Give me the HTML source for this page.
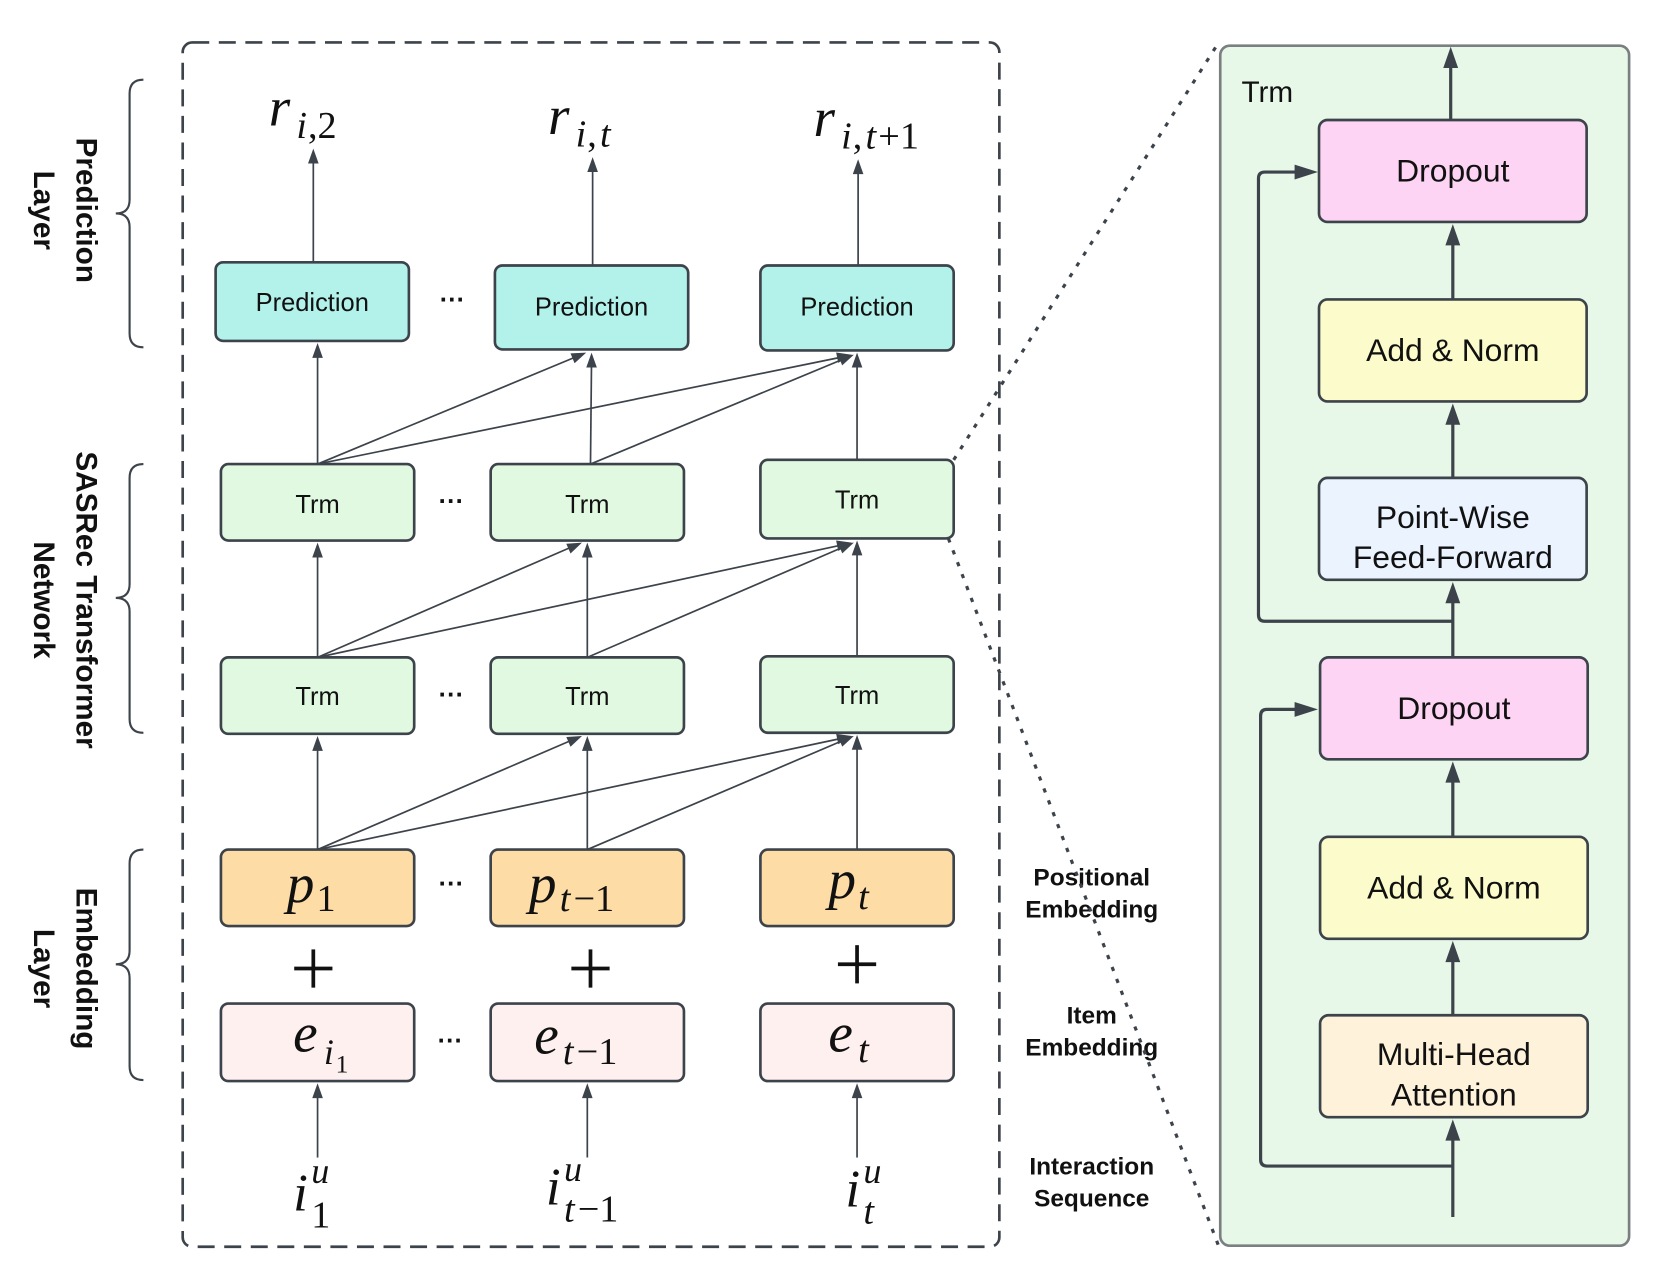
<!DOCTYPE html>
<html><head><meta charset="utf-8"><style>
html,body{margin:0;padding:0;background:#fff;}
svg{display:block;}
.s{font-family:"Liberation Sans",sans-serif;}
.m{font-family:"Liberation Serif",serif;font-style:italic;}
.r{font-family:"Liberation Serif",serif;}
</style></head><body>
<svg width="1661" height="1268" viewBox="0 0 1564 1194" xmlns="http://www.w3.org/2000/svg">
<rect width="1564" height="1194" fill="#fff"/>
<rect x="172" y="40" width="769" height="1134" rx="9" fill="none" stroke="#3d434b" stroke-width="2.5" stroke-dasharray="16,9"/>
<g fill="none" stroke="#3d434b" stroke-width="2">
<path d="M135,75 Q122,75 122,88 L122,188 Q122,201 109,201 Q122,201 122,214 L122,314 Q122,327 135,327"/>
<path d="M135,437 Q122,437 122,450 L122,550 Q122,563 109,563 Q122,563 122,576 L122,677 Q122,690 135,690"/>
<path d="M135,800 Q122,800 122,813 L122,895 Q122,908 109,908 Q122,908 122,921 L122,1004 Q122,1017 135,1017"/>
</g>
<g class="s" font-weight="bold" font-size="28" fill="#111" text-anchor="middle">
<text transform="translate(72,198) rotate(90)">Prediction</text>
<text transform="translate(32,198) rotate(90)">Layer</text>
<text transform="translate(72,565) rotate(90)">SASRec Transformer</text>
<text transform="translate(32,565) rotate(90)">Network</text>
<text transform="translate(72,912) rotate(90)">Embedding</text>
<text transform="translate(32,912) rotate(90)">Layer</text>
</g>
<g stroke="#3d434b" stroke-width="1.6" fill="none">
<line x1="295" y1="247" x2="295" y2="145"/>
<line x1="558" y1="250" x2="558" y2="153"/>
<line x1="808" y1="250" x2="808" y2="155"/>
<line x1="299" y1="437" x2="299" y2="328"/>
<line x1="556" y1="437" x2="557" y2="337"/>
<line x1="807" y1="433" x2="807" y2="337"/>
<line x1="299" y1="437" x2="540" y2="337"/>
<line x1="299" y1="437" x2="789" y2="337"/>
<line x1="556" y1="437" x2="792" y2="339"/>
<line x1="299" y1="619" x2="299" y2="516"/>
<line x1="553" y1="619" x2="553" y2="516"/>
<line x1="807" y1="619" x2="807" y2="514"/>
<line x1="299" y1="619" x2="536" y2="516"/>
<line x1="299" y1="619" x2="789" y2="514"/>
<line x1="553" y1="619" x2="792" y2="516"/>
<line x1="299" y1="800" x2="299" y2="698"/>
<line x1="553" y1="800" x2="553" y2="698"/>
<line x1="807" y1="800" x2="807" y2="697"/>
<line x1="299" y1="800" x2="536" y2="698"/>
<line x1="299" y1="800" x2="789" y2="696"/>
<line x1="553" y1="800" x2="792" y2="698"/>
<line x1="299" y1="1090" x2="299" y2="1025"/>
<line x1="553" y1="1090" x2="553" y2="1025"/>
<line x1="807" y1="1090" x2="807" y2="1025"/>
</g>
<g fill="#3d434b">
<polygon points="295,140 290,154 300,154"/>
<polygon points="558,148 553,162 563,162"/>
<polygon points="808,150 803,164 813,164"/>
<polygon points="299,323 294,337 304,337"/>
<polygon points="557,332 552,346 562,346"/>
<polygon points="807,332 802,346 812,346"/>
<polygon points="552,332 541,342 537.2,332.8"/>
<polygon points="802,334 789.3,341.7 787.3,331.9"/>
<polygon points="804,334 793,344 789.2,334.8"/>
<polygon points="299,511 294,525 304,525"/>
<polygon points="553,511 548,525 558,525"/>
<polygon points="807,509 802,523 812,523"/>
<polygon points="548,511 537.2,521.2 533.2,512"/>
<polygon points="802,511 789.3,518.8 787.3,509"/>
<polygon points="804,511 793.1,521.1 789.1,511.9"/>
<polygon points="299,693 294,707 304,707"/>
<polygon points="553,693 548,707 558,707"/>
<polygon points="807,692 802,706 812,706"/>
<polygon points="548,693 537.2,703.2 533.2,694"/>
<polygon points="802,693 789.3,700.8 787.3,691"/>
<polygon points="804,693 793.1,703.1 789.1,693.9"/>
<polygon points="299,1020 294,1034 304,1034"/>
<polygon points="553,1020 548,1034 558,1034"/>
<polygon points="807,1020 802,1034 812,1034"/>
</g>
<g stroke="#3d434b" stroke-width="2.5">
<rect x="203" y="247" width="182" height="74" rx="7" fill="#b3f2ea"/>
<rect x="466" y="250" width="182" height="79" rx="7" fill="#b3f2ea"/>
<rect x="716" y="250" width="182" height="80" rx="7" fill="#b3f2ea"/>
<rect x="208" y="437" width="182" height="72" rx="7" fill="#e1f9e1"/>
<rect x="462" y="437" width="182" height="72" rx="7" fill="#e1f9e1"/>
<rect x="716" y="433" width="182" height="74" rx="7" fill="#e1f9e1"/>
<rect x="208" y="619" width="182" height="72" rx="7" fill="#e1f9e1"/>
<rect x="462" y="619" width="182" height="72" rx="7" fill="#e1f9e1"/>
<rect x="716" y="618" width="182" height="72" rx="7" fill="#e1f9e1"/>
<rect x="208" y="800" width="182" height="72" rx="7" fill="#fddca5"/>
<rect x="462" y="800" width="182" height="72" rx="7" fill="#fddca5"/>
<rect x="716" y="800" width="182" height="72" rx="7" fill="#fddca5"/>
<rect x="208" y="945" width="182" height="73" rx="7" fill="#fdf0ef"/>
<rect x="462" y="945" width="182" height="73" rx="7" fill="#fdf0ef"/>
<rect x="716" y="945" width="182" height="73" rx="7" fill="#fdf0ef"/>
</g>
<g class="s" font-size="24" fill="#111" text-anchor="middle">
<text x="294" y="293">Prediction</text>
<text x="557" y="297">Prediction</text>
<text x="807" y="297">Prediction</text>
<text x="299" y="483">Trm</text>
<text x="553" y="483">Trm</text>
<text x="807" y="479">Trm</text>
<text x="299" y="664">Trm</text>
<text x="553" y="664">Trm</text>
<text x="807" y="663">Trm</text>
</g>
<g class="s" font-size="24" fill="#111" text-anchor="middle" font-weight="bold">
<text x="426" y="290">···</text>
<text x="425" y="480">···</text>
<text x="425" y="662">···</text>
<text x="425" y="840">···</text>
<text x="424" y="988">···</text>
</g>
<g fill="#111">
<text class="m" x="253" y="118" font-size="52">r</text><text class="m" x="279" y="130" font-size="36">i</text><text class="r" x="290" y="130" font-size="36">,2</text>
<text class="m" x="516" y="126" font-size="52">r</text><text class="m" x="542" y="138" font-size="36">i</text><text class="r" x="553" y="138" font-size="36">,</text><text class="m" x="565" y="138" font-size="36">t</text>
<text class="m" x="766" y="128" font-size="52">r</text><text class="m" x="792" y="140" font-size="36">i</text><text class="r" x="803" y="140" font-size="36">,</text><text class="m" x="815" y="140" font-size="36">t</text><text class="r" x="827" y="140" font-size="36">+1</text>
<text class="m" x="270" y="850" font-size="52">p</text><text class="r" x="298" y="858" font-size="36">1</text>
<text class="m" x="498" y="850" font-size="52">p</text><text class="m" x="527" y="858" font-size="36">t</text><text class="r" x="540" y="858" font-size="36">−1</text>
<text class="m" x="780" y="846" font-size="52">p</text><text class="m" x="808" y="856" font-size="36">t</text>
<g stroke="#111" stroke-width="3.5">
<line x1="277" y1="912" x2="313" y2="912"/><line x1="295" y1="894" x2="295" y2="930"/>
<line x1="538" y1="912" x2="574" y2="912"/><line x1="556" y1="894" x2="556" y2="930"/>
<line x1="789" y1="908" x2="825" y2="908"/><line x1="807" y1="890" x2="807" y2="926"/>
</g>
<text class="m" x="276" y="990" font-size="52">e</text><text class="m" x="305" y="1002" font-size="34">i</text><text class="r" x="316" y="1010" font-size="24">1</text>
<text class="m" x="503" y="992" font-size="52">e</text><text class="m" x="530" y="1002" font-size="36">t</text><text class="r" x="543" y="1002" font-size="36">−1</text>
<text class="m" x="780" y="990" font-size="52">e</text><text class="m" x="808" y="1000" font-size="36">t</text>
<text class="m" x="276" y="1140" font-size="50">i</text><text class="m" x="293" y="1114" font-size="34">u</text><text class="r" x="293" y="1156" font-size="36">1</text>
<text class="m" x="514" y="1134" font-size="50">i</text><text class="m" x="531" y="1112" font-size="34">u</text><text class="m" x="531" y="1150" font-size="36">t</text><text class="r" x="544" y="1150" font-size="36">−1</text>
<text class="m" x="796" y="1136" font-size="50">i</text><text class="m" x="813" y="1114" font-size="34">u</text><text class="m" x="813" y="1152" font-size="36">t</text>
</g>
<g class="s" font-weight="bold" font-size="23" fill="#111" text-anchor="middle">
<text x="1028" y="834">Positional</text><text x="1028" y="864">Embedding</text>
<text x="1028" y="964">Item</text><text x="1028" y="994">Embedding</text>
<text x="1028" y="1106">Interaction</text><text x="1028" y="1136">Sequence</text>
</g>
<g stroke="#3d434b" stroke-width="3" stroke-dasharray="4,8" fill="none">
<line x1="898" y1="433" x2="1145" y2="44"/>
<line x1="893" y1="507" x2="1147" y2="1172"/>
</g>
<rect x="1149" y="43" width="385" height="1130" rx="9" fill="#e8f8e8" stroke="#7a8081" stroke-width="2.5"/>
<text class="s" x="1169" y="96" font-size="28" fill="#111">Trm</text>
<g stroke="#3d434b" stroke-width="3" fill="none">
<line x1="1368" y1="1146" x2="1368" y2="1064"/>
<line x1="1368" y1="956" x2="1368" y2="896"/>
<line x1="1368" y1="788" x2="1368" y2="727"/>
<line x1="1368" y1="619" x2="1368" y2="558"/>
<line x1="1368" y1="450" x2="1368" y2="390"/>
<line x1="1368" y1="282" x2="1368" y2="221"/>
<line x1="1366" y1="113" x2="1366" y2="54"/>
<path d="M1368,1098 L1193,1098 Q1187,1098 1187,1092 L1187,674 Q1187,668 1193,668 L1225,668"/>
<path d="M1368,585 L1191,585 Q1185,585 1185,579 L1185,168 Q1185,162 1191,162 L1225,162"/>
</g>
<g fill="#3d434b">
<polygon points="1368,1054 1361,1074 1375,1074"/>
<polygon points="1368,886 1361,906 1375,906"/>
<polygon points="1368,717 1361,737 1375,737"/>
<polygon points="1368,548 1361,568 1375,568"/>
<polygon points="1368,380 1361,400 1375,400"/>
<polygon points="1368,211 1361,231 1375,231"/>
<polygon points="1366,44 1359,64 1373,64"/>
<polygon points="1241,668 1219,661 1219,675"/>
<polygon points="1241,162 1219,155 1219,169"/>
</g>
<g stroke="#3d434b" stroke-width="2.5">
<rect x="1242" y="113" width="252" height="96" rx="8" fill="#fdd4f4"/>
<rect x="1242" y="282" width="252" height="96" rx="8" fill="#fcfbcb"/>
<rect x="1242" y="450" width="252" height="96" rx="8" fill="#eaf3fe"/>
<rect x="1243" y="619" width="252" height="96" rx="8" fill="#fdd4f4"/>
<rect x="1243" y="788" width="252" height="96" rx="8" fill="#fcfbcb"/>
<rect x="1243" y="956" width="252" height="96" rx="8" fill="#fff2db"/>
</g>
<g class="s" font-size="30" fill="#111" text-anchor="middle">
<text x="1368" y="171">Dropout</text>
<text x="1368" y="340">Add &amp; Norm</text>
<text x="1368" y="497">Point-Wise</text><text x="1368" y="535">Feed-Forward</text>
<text x="1369" y="677">Dropout</text>
<text x="1369" y="846">Add &amp; Norm</text>
<text x="1369" y="1003">Multi-Head</text><text x="1369" y="1041">Attention</text>
</g>
</svg>
</body></html>
